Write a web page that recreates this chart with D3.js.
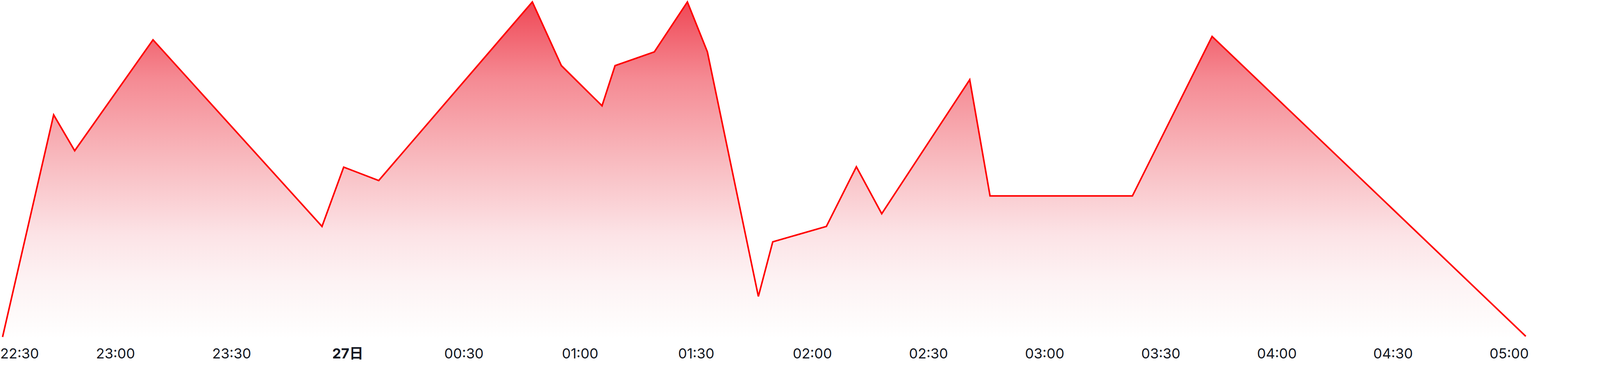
<!DOCTYPE html>
<meta charset="utf-8">
<head>
    <script type="text/javascript" src="https://d3js.org/d3.v7.min.js"></script>
    <style>
        body { margin: 0; background: #fff; overflow: hidden; }
        .axis text { font-family: "Inter", "Noto Sans CJK JP", sans-serif; font-size: 36px; fill: #131722; }
    </style>
    <title></title>
</head>
<body>
    <div id="chart"></div>
    <script>
        // data (day + time, value)
        var times = ["26 22:30:52", "26 22:44:04", "26 22:49:30", "26 23:09:44", "26 23:53:23", "26 23:58:59",
                     "27 00:08:02", "27 00:47:43", "27 00:55:13", "27 01:05:43", "27 01:09:05", "27 01:19:14",
                     "27 01:27:46", "27 01:32:56", "27 01:46:06", "27 01:49:49", "27 02:03:40", "27 02:11:25",
                     "27 02:17:58", "27 02:40:42", "27 02:45:57", "27 03:22:43", "27 03:43:18", "27 05:04:20"];
        var values = [0.0, 66.3, 55.6, 88.7, 33.0, 50.7,
                      46.7, 100, 81.0, 69.0, 81.0, 85.1,
                      100, 85.1, 12.1, 28.4, 33.0, 50.8,
                      36.8, 76.8, 42.1, 42.1, 89.7, 0.2];
        var axisStart = "26 22:30:00", axisEnd = "27 05:00:00";

        // layout was measured on a 4800 wide chart, scale x to the real window
        var width = window.innerWidth || 4800, height = window.innerHeight || 945;
        var k = width / 4800;
        var plotBottom = 863, plotTop = 5, paneBottom = 870, labelY = 918;

        var parseT = d3.timeParse("%d %H:%M:%S");
        var data = times.map(function (t, i) { return {t: parseT(t), v: values[i]}; });

        var x = d3.scaleTime()
            .domain([parseT(axisStart), parseT(axisEnd)])
            .range([-2.4 * k, 4527 * k]);
        var y = d3.scaleLinear()
            .domain([0, 100])
            .range([plotBottom, plotTop]);

        var svg = d3.select("#chart").append("svg")
            .attr("width", width)
            .attr("height", height)
            .style("display", "block");

        // fill fades from red at the top to white at the pane bottom
        var grad = svg.append("defs").append("linearGradient")
            .attr("id", "areaGrad")
            .attr("gradientUnits", "userSpaceOnUse")
            .attr("x1", 0).attr("x2", 0)
            .attr("y1", 0).attr("y2", paneBottom);
        var stops = [[0, "rgb(239,70,84)"], [0.23, "rgb(245,138,147)"], [0.46, "rgb(248,184,189)"],
                     [0.69, "rgb(252,227,230)"], [0.83, "rgb(253,243,244)"], [0.94, "rgb(254,251,251)"],
                     [1, "rgb(255,255,255)"]];
        grad.selectAll("stop").data(stops).enter().append("stop")
            .attr("offset", function (d) { return d[0]; })
            .attr("stop-color", function (d) { return d[1]; });

        var area = d3.area()
            .x(function (d) { return x(d.t); })
            .y0(paneBottom)
            .y1(function (d) { return y(d.v); });
        var line = d3.line()
            .x(function (d) { return x(d.t); })
            .y(function (d) { return y(d.v); });

        svg.append("path").datum(data)
            .attr("d", area)
            .attr("fill", "url(#areaGrad)");
        svg.append("path").datum(data)
            .attr("d", line)
            .attr("fill", "none")
            .attr("stroke", "#ff0000")
            .attr("stroke-width", 4)
            .attr("stroke-linejoin", "miter");

        // time axis, midnight shows the day instead
        function isMidnight(d) { return d.getHours() === 0 && d.getMinutes() === 0; }
        var fmt = d3.timeFormat("%H:%M");
        var xAxis = d3.axisBottom(x)
            .tickValues(d3.timeMinute.every(30).range(parseT(axisStart), d3.timeMinute.offset(parseT(axisEnd), 1)))
            .tickSize(0)
            .tickFormat(function (d) { return isMidnight(d) ? d3.timeFormat("%-d")(d) + "日" : fmt(d); });

        var gx = svg.append("g")
            .attr("class", "axis")
            .attr("transform", "translate(0," + labelY + ")")
            .call(xAxis);
        gx.select(".domain").remove();
        gx.selectAll("text")
            .attr("y", 0).attr("dy", 0)
            .style("font-weight", function (d) { return isMidnight(d) ? "bold" : null; });

        // keep the first label inside the chart
        gx.selectAll(".tick").each(function (d) {
            var t = d3.select(this).select("text");
            var w = t.node().getComputedTextLength();
            var px = x(d);
            if (px - w / 2 < 0) t.attr("x", w / 2 - px);
        });
    </script>
</body>
</html>
